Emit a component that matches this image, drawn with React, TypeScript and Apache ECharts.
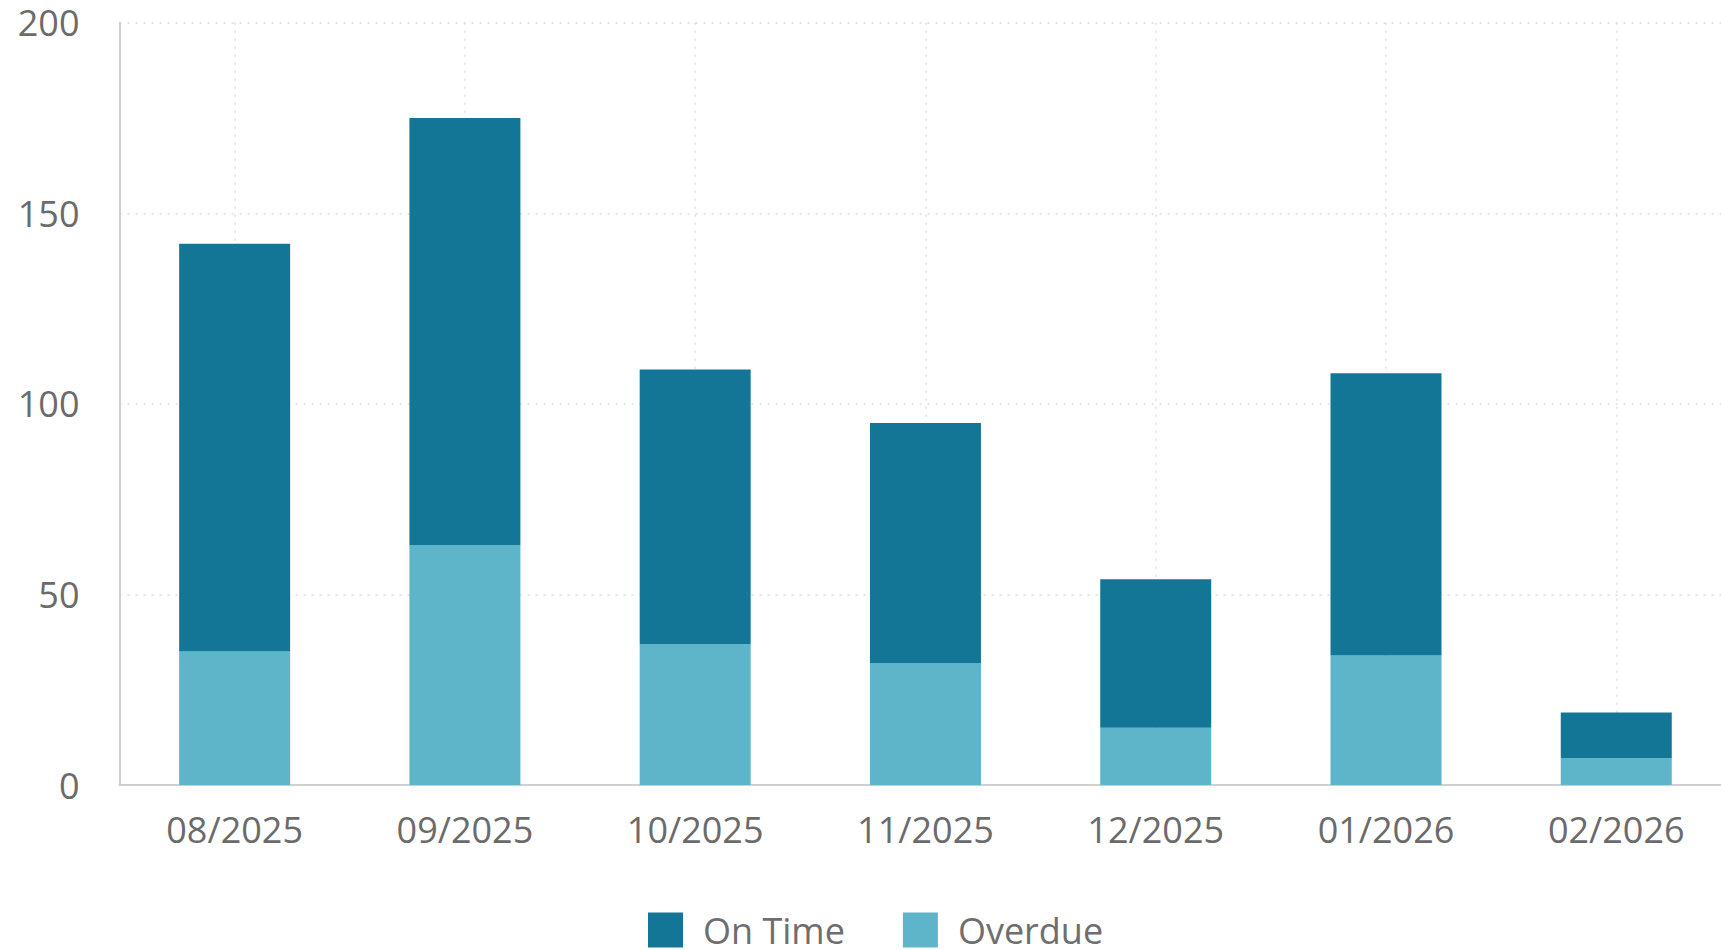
import React, { useEffect, useRef } from "react";
import * as echarts from "echarts";

const categories = ["08/2025", "09/2025", "10/2025", "11/2025", "12/2025", "01/2026", "02/2026"];
const onTime = [107, 112, 72, 63, 39, 74, 12];
const overdue = [35, 63, 37, 32, 15, 34, 7];
const seriesNames = ["On Time", "Overdue"];
const yTicks = { min: 0, max: 200, interval: 50 };

export default function App() {
  const ref = useRef<HTMLDivElement>(null);
  useEffect(() => {
    if (!ref.current) return;
    const chart = echarts.init(ref.current, null, { renderer: "svg" });
    const font = "'Open Sans', sans-serif";
    chart.setOption({
      animation: false,
      backgroundColor: "#ffffff",
      grid: { left: 119.5, right: 8.6, top: 22.7, bottom: 165, containLabel: false },
      legend: {
        data: seriesNames,
        left: 643,
        top: 907,
        icon: "rect",
        itemWidth: 35,
        itemHeight: 35,
        itemGap: 58,
        textStyle: { fontFamily: font, fontSize: 36, color: "#6e6e6e", padding: [0, 0, 0, 15] },
      },
      xAxis: {
        type: "category",
        data: categories,
        axisLine: { show: true, lineStyle: { color: "#d0d0d0", width: 2 } },
        axisTick: { show: false },
        axisLabel: { fontFamily: font, fontSize: 36, color: "#6b6b6b", margin: 26 },
        splitLine: { show: true, alignWithLabel: true, lineStyle: { color: "#dcdcdc", type: [2, 6], width: 1.5 } },
      },
      yAxis: {
        type: "value",
        min: yTicks.min,
        max: yTicks.max,
        interval: yTicks.interval,
        axisLine: { show: true, lineStyle: { color: "#d0d0d0", width: 2 } },
        axisTick: { show: false },
        axisLabel: { fontFamily: font, fontSize: 36, color: "#6b6b6b", margin: 40 },
        splitLine: { show: true, lineStyle: { color: "#dcdcdc", type: [2, 6], width: 1.5 } },
      },
      series: [
        {
          name: "Overdue",
          type: "bar",
          stack: "total",
          barWidth: 111,
          data: overdue,
          itemStyle: { color: "#5eb5ca" },
        },
        {
          name: "On Time",
          type: "bar",
          stack: "total",
          barWidth: 111,
          data: onTime,
          itemStyle: { color: "#147696" },
        },
      ],
    });
    return () => chart.dispose();
  }, []);
  return (
    <div style={{ position: "fixed", left: 0, top: 0, width: 1721, height: 950, overflow: "hidden", background: "#fff" }}>
      <div ref={ref} style={{ width: 1740, height: 950 }} />
    </div>
  );
}
